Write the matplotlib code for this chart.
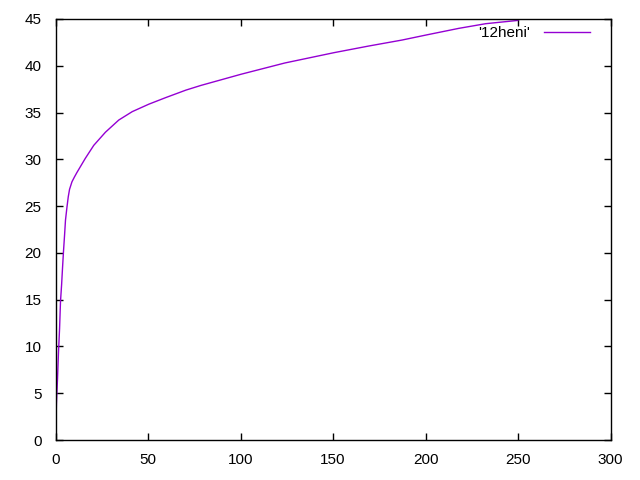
import matplotlib
matplotlib.use("Agg")
import matplotlib.pyplot as plt

# values
xs = [0.2, 0.5, 1.1, 1.6, 2.2, 2.7, 3.3, 3.8, 4.3, 4.9, 5.4, 6.2, 6.9, 7.6, 8.9,
      10.2, 11.6, 16.1, 20.7, 27.0, 34.2, 41.5, 50.5, 59.6, 70.5, 78.6, 100.4,
      124.0, 150.5, 169.0, 187.3, 200.6, 218.0, 232.6, 250.0]
ys = [1.25, 3.9, 6.6, 9.3, 11.9, 14.8, 16.6, 18.4, 20.1, 21.9, 23.5, 24.9, 26.0, 26.8, 27.6,
      28.1, 28.6, 30.1, 31.5, 32.9, 34.2, 35.1, 35.9, 36.6, 37.4, 37.9, 39.1,
      40.3, 41.4, 42.1, 42.75, 43.3, 44.0, 44.5, 44.85]
label = "'12heni'"
xticks = [0, 50, 100, 150, 200, 250, 300]
yticks = [0, 5, 10, 15, 20, 25, 30, 35, 40, 45]

plt.rcParams['font.family'] = ['Liberation Sans', 'DejaVu Sans']
plt.rcParams['font.size'] = 11

fig = plt.figure(figsize=(6.4, 4.8), dpi=100)
ax = fig.add_axes([55.5 / 640, 40 / 480, 555 / 640, 421 / 480])

ax.plot(xs, ys, color='#9400D3', linewidth=1.0, label=label)

ax.set_xlim(0, 300)
ax.set_ylim(0, 45)
ax.set_xticks(xticks)
ax.set_yticks(yticks)
ax.tick_params(direction='in', length=5, width=1, top=True, right=True, colors='black')
ax.tick_params(axis='x', pad=9)
ax.tick_params(axis='y', pad=10)
for s in ax.spines.values():
    s.set_linewidth(1)

ax.legend(loc='center right', bbox_to_anchor=(0.963, 0.967), frameon=False,
          markerfirst=False, handlelength=3.0, handletextpad=0.9,
          borderaxespad=0, borderpad=0)

fig.savefig('out.png', dpi=100)
